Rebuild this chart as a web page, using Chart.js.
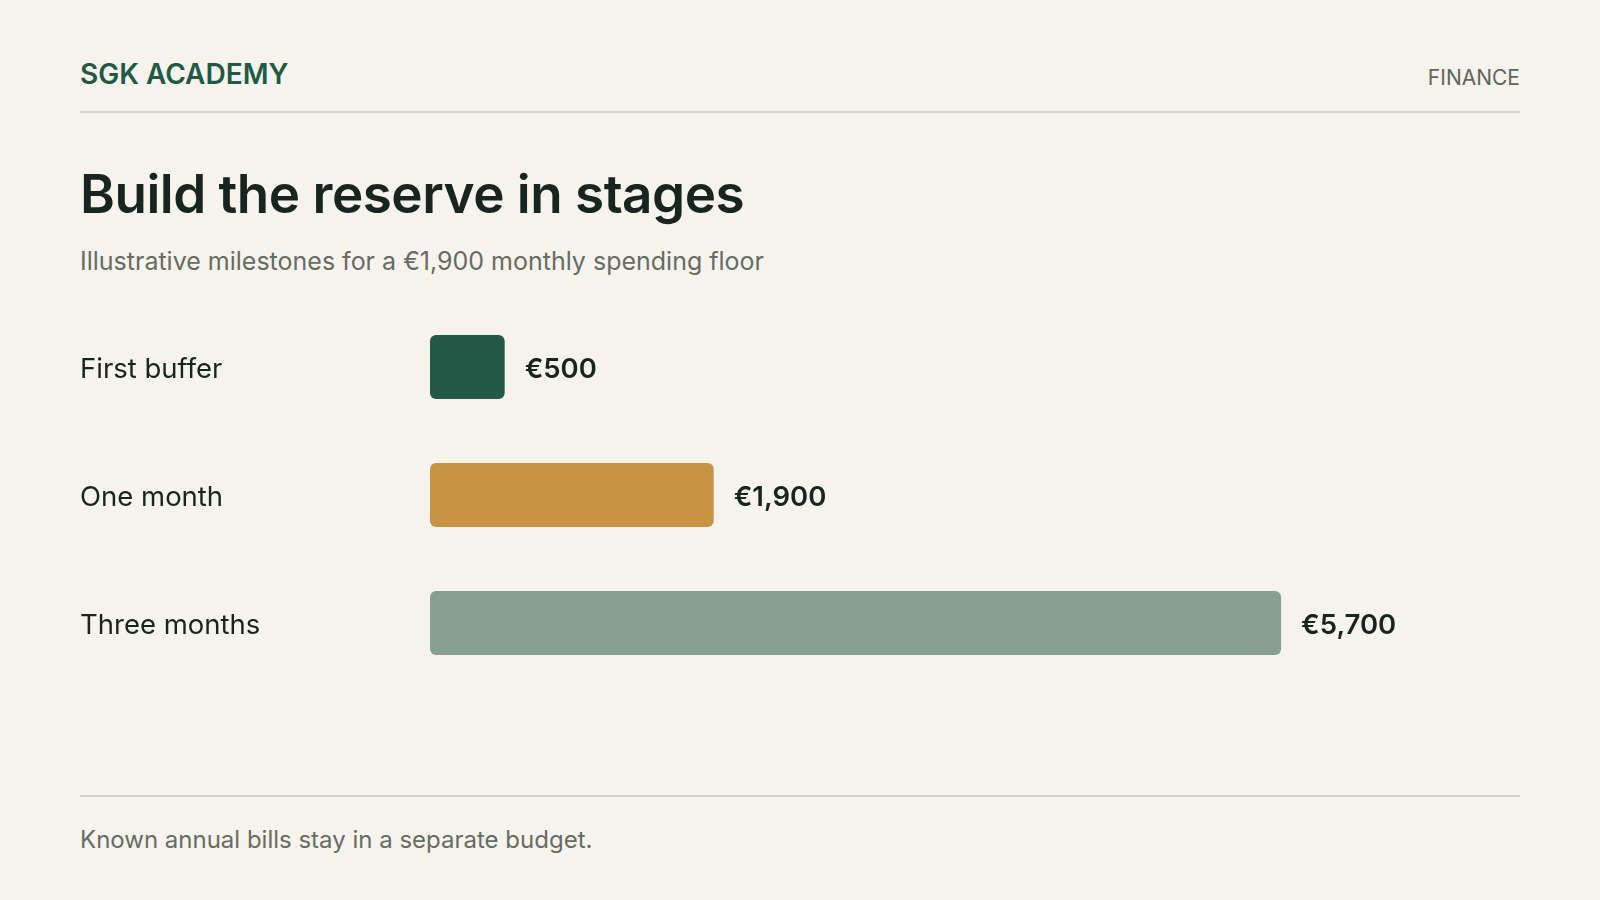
<!DOCTYPE html>
<html lang="en">
<head>
  <meta charset="UTF-8">
  <title>Build the reserve in stages</title>
  <script src="https://cdn.jsdelivr.net/npm/chart.js"></script>
  <style>
    html, body { margin: 0; padding: 0; }
    body {
      width: 1600px; height: 900px; position: relative; overflow: hidden;
      background: #f6f3ec; font-family: Inter, "Noto Sans", sans-serif; color: #17251e;
    }
    .brand { position: absolute; left: 80px; top: 57px; font-size: 28px; font-weight: 600; color: #1f5a45; line-height: 34px; }
    .section { position: absolute; right: 80px; top: 64px; font-size: 21px; color: #5f655d; line-height: 28px; }
    .rule { position: absolute; left: 80px; width: 1440px; height: 2px; background: #cfd5cb; }
    h1 { position: absolute; left: 80px; top: 159px; margin: 0; font-size: 53px; font-weight: 600; line-height: 70px; letter-spacing: -0.5px; }
    .sub { position: absolute; left: 80px; top: 245px; font-size: 25px; color: #666b63; line-height: 32px; }
    .foot { position: absolute; left: 80px; top: 824px; font-size: 24px; color: #666b63; line-height: 32px; }
    #wrap { position: absolute; left: 80px; top: 303px; width: 1440px; height: 384px; }
  </style>
</head>
<body>
  <div class="brand">SGK ACADEMY</div>
  <div class="section">FINANCE</div>
  <div class="rule" style="top:111px"></div>
  <h1>Build the reserve in stages</h1>
  <div class="sub">Illustrative milestones for a €1,900 monthly spending floor</div>
  <div id="wrap"><canvas id="reserveChart"></canvas></div>
  <div class="rule" style="top:795px"></div>
  <div class="foot">Known annual bills stay in a separate budget.</div>

  <script>
    const stages = ['First buffer', 'One month', 'Three months'];
    const amounts = [500, 1900, 5700];
    const barColors = ['#215846', '#c89342', '#88a090'];

    const euro = v => '€' + v.toLocaleString('en-US');

    // category names at the left edge of the y axis, values right of each bar
    const rowLabels = {
      id: 'rowLabels',
      afterDatasetsDraw(chart) {
        const ctx = chart.ctx;
        const yScale = chart.scales.y;
        const meta = chart.getDatasetMeta(0);
        ctx.save();
        ctx.fillStyle = '#17251e';
        ctx.textAlign = 'left';
        ctx.textBaseline = 'middle';
        ctx.font = '400 27.5px Inter, "Noto Sans", sans-serif';
        stages.forEach((name, i) => {
          ctx.fillText(name, yScale.left, yScale.getPixelForValue(i) + 2.5);
        });
        ctx.font = '600 27.5px Inter, "Noto Sans", sans-serif';
        meta.data.forEach((bar, i) => {
          ctx.fillText(euro(amounts[i]), bar.x + 20, bar.y + 2.5);
        });
        ctx.restore();
      }
    };

    new Chart(document.getElementById('reserveChart'), {
      type: 'bar',
      data: {
        labels: stages,
        datasets: [{
          data: amounts,
          backgroundColor: barColors,
          borderRadius: 6,
          borderSkipped: false,
          categoryPercentage: 1,
          barPercentage: 0.5
        }]
      },
      options: {
        indexAxis: 'y',
        responsive: true,
        maintainAspectRatio: false,
        animation: false,
        layout: { padding: 0 },
        plugins: { legend: { display: false }, tooltip: { enabled: false } },
        scales: {
          x: { display: false, min: 0, max: 7300 },
          y: {
            grid: { display: false },
            border: { display: false },
            ticks: { display: false },
            afterFit(scale) { scale.width = 350; }
          }
        }
      },
      plugins: [rowLabels]
    });
  </script>
</body>
</html>
